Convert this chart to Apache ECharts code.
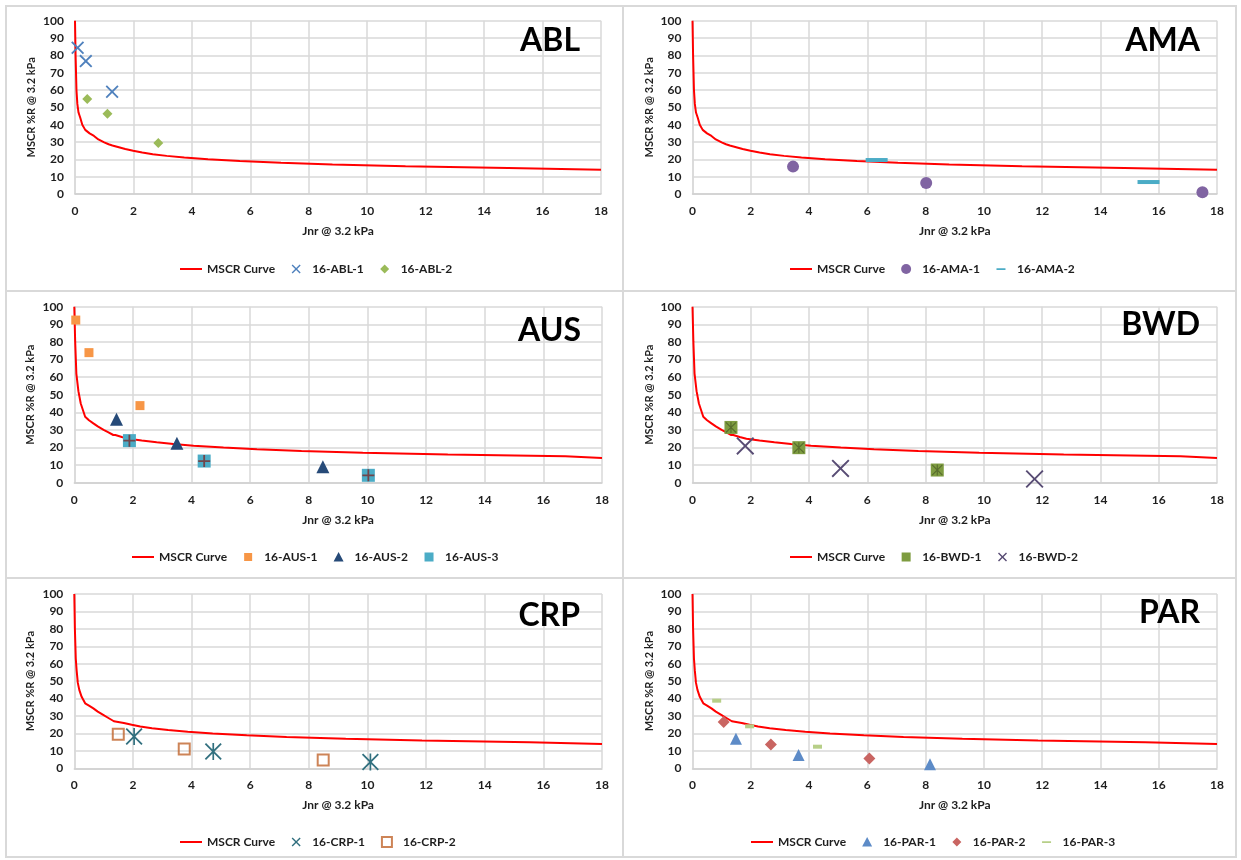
<!DOCTYPE html>
<html><head><meta charset="utf-8">
<script src="https://cdn.jsdelivr.net/npm/echarts@6/dist/echarts.min.js"></script>
<style>html,body{margin:0;padding:0;background:#fff}#chart{width:1241px;height:860px}</style>
</head><body><div id="chart"></div>
<script>
// ---- axis ticks ----
const xMin = 0, xMax = 18, xStep = 2;
const yMin = 0, yMax = 100, yStep = 10;
const xTitle = 'Jnr @ 3.2 kPa';
const yTitle = 'MSCR %R @ 3.2 kPa';
const curveName = 'MSCR Curve';
const panelNames = ['ABL', 'AMA', 'AUS', 'BWD', 'CRP', 'PAR'];

// ---- MSCR curve: steep part, then step levels [Jnr where level begins, %R] ----
const curveA_smooth = [[0,100],[0.02,80],[0.05,60],[0.08,52],[0.12,47],[0.18,44],[0.25,40],[0.35,37],[0.5,35],[0.65,33.5],[0.8,31.5],[1.0,29.8],[1.15,28.7],[1.28,28]];
const curveA_steps = [[1.28,27],[1.5,26],[1.72,25],[1.99,24],[2.3,23],[2.66,22],[3.14,21],[3.74,20],[4.55,19],[5.64,18],[7.05,17],[8.81,16],[11.31,15],[14.82,14]];
const curveB_smooth = [[0,100],[0.03,80],[0.07,62],[0.14,52],[0.22,45],[0.37,37.5],[0.5,35.5],[0.65,33.7],[0.8,32],[1.0,30],[1.15,28.7],[1.33,27.1]];
const curveB_steps = [[1.4,26],[1.62,25],[1.85,24],[2.3,23],[2.81,22],[3.38,21],[4.07,20],[5.09,19],[6.23,18],[7.75,17],[9.84,16],[12.74,15],[16.75,14]];
const curveC_smooth = [[0,100],[0.02,80],[0.05,63],[0.08,56],[0.12,49],[0.17,45],[0.25,41],[0.37,37.3],[0.5,36],[0.65,34.4],[0.8,32.5],[1.0,30.5],[1.15,29],[1.35,27]];
const curveC_steps = [[1.35,26],[1.69,25],[1.96,24],[2.25,23],[2.65,22],[3.2,21],[3.87,20],[4.72,19],[5.88,18],[7.24,17],[9.26,16],[11.86,15],[15.53,14]];

// ---- sample points [Jnr, %R] ----
const abl1 = [[0.09,84.4],[0.37,76.7],[1.27,59]];
const abl2 = [[0.42,54.8],[1.11,46.3],[2.85,29.4]];
const ama1 = [[3.45,15.8],[8.02,6.3],[17.5,1.0]];
const ama2 = [[6.32,19.6],[15.65,6.9]];
const aus1 = [[0.05,92.4],[0.5,73.9],[2.24,43.8]];
const aus2 = [[1.44,36.1],[3.5,22.4],[8.48,9.1]];
const aus3 = [[1.88,23.9],[4.43,12.3],[10.03,4.2]];
const bwd1 = [[1.32,31.4],[3.65,19.9],[8.4,7.2]];
const bwd2 = [[1.81,20.9],[5.08,8.1],[11.74,2.1]];
const crp1 = [[2.04,18.3],[4.74,9.6],[10.1,3.6]];
const crp2 = [[1.5,19.6],[3.75,11.1],[8.49,4.8]];
const par1 = [[1.49,17.0],[3.64,7.7],[8.15,2.3]];
const par2 = [[1.07,26.6],[2.69,13.7],[6.07,5.6]];
const par3 = [[0.83,38.8],[1.96,24.1],[4.29,12.4]];

// ---- marker shapes ----
const X_THICK = 'path://M2,0 L10,8 L18,0 L20,2 L12,10 L20,18 L18,20 L10,12 L2,20 L0,18 L8,10 L0,2 Z';
const X_THIN = 'path://M1.5,0 L10,8.5 L18.5,0 L20,1.5 L11.5,10 L20,18.5 L18.5,20 L10,11.5 L1.5,20 L0,18.5 L8.5,10 L0,1.5 Z';
const ASTER = 'path://M1.5,0 L10,8.5 L18.5,0 L20,1.5 L11.5,10 L20,18.5 L18.5,20 L10,11.5 L1.5,20 L0,18.5 L8.5,10 L0,1.5 Z M9,0 L11,0 L11,20 L9,20 Z';
const PLUS = 'path://M8.5,0 L11.5,0 L11.5,8.5 L20,8.5 L20,11.5 L11.5,11.5 L11.5,20 L8.5,20 L8.5,11.5 L0,11.5 L0,8.5 L8.5,8.5 Z';
// legend icons (tiny corner dots keep a square bounding box)
const DOTS_A = 'M0,0 L0.01,0 L0.01,0.01 Z ';
const DOTS_B = ' M19.99,19.99 L20,19.99 L20,20 Z';
const ICON_LINE = 'path://M0,9 L22,9 L22,11 L0,11 Z';
const ICON_DASH = 'path://' + DOTS_A + 'M1,8.5 L19,8.5 L19,12 L1,12 Z' + DOTS_B;
const ICON_DIAMOND = 'path://' + DOTS_A + 'M10,1 L19,10 L10,19 L1,10 Z' + DOTS_B;
const ICON_TRIANGLE = 'path://' + DOTS_A + 'M10,0 L20,19 L0,19 Z' + DOTS_B;
const ICON_SQUARE_S = 'path://' + DOTS_A + 'M2,2 L18,2 L18,18 L2,18 Z' + DOTS_B;
const ICON_SQUARE = 'path://' + DOTS_A + 'M1,1 L19,1 L19,19 L1,19 Z' + DOTS_B;
const ICON_HOLLOW = 'path://M0,0 L10,0 L10,10 L0,10 Z';
const ICON_X = 'path://' + DOTS_A + 'M3,1 L10,8 L17,1 L19,3 L12,10 L19,17 L17,19 L10,12 L3,19 L1,17 L8,10 L1,3 Z' + DOTS_B;

function buildCurve(smooth, steps, xEnd) {
  const pts = smooth.map(p => p.slice());
  let prev = pts[pts.length - 1][1];
  steps.forEach(([x, lvl]) => { pts.push([x, prev]); pts.push([x, lvl]); prev = lvl; });
  pts.push([xEnd, prev]);
  return pts;
}
const curveA = buildCurve(curveA_smooth, curveA_steps, xMax);
const curveB = buildCurve(curveB_smooth, curveB_steps, xMax);
const curveC = buildCurve(curveC_smooth, curveC_steps, xMax);

const FONT = 'Lato';
const TXT = '#1e1e1e';

const panels = [
  { curve: curveA, grid: {left: 75, top: 20.7, width: 526, height: 173.3}, title: {right: 661, top: 25}, legend: {left: 180, top: 263},
    sets: [
      {name: '16-ABL-1', data: abl1, symbol: X_THICK, size: 13, color: '#4f81bd', icon: ICON_X},
      {name: '16-ABL-2', data: abl2, symbol: 'diamond', size: 10, color: '#9bbb59', icon: ICON_DIAMOND}
    ]},
  { curve: curveA, grid: {left: 692.5, top: 20.7, width: 524.5, height: 173.3}, title: {right: 41, top: 25}, legend: {left: 790, top: 263},
    sets: [
      {name: '16-AMA-1', data: ama1, symbol: 'circle', size: 12, color: '#8064a2', icon: 'circle'},
      {name: '16-AMA-2', data: ama2, symbol: 'rect', size: [22, 4], color: '#4bacc6', icon: ICON_DASH}
    ]},
  { curve: curveB, grid: {left: 74.3, top: 306.7, width: 527.7, height: 176}, title: {right: 660, top: 315}, legend: {left: 132, top: 551},
    sets: [
      {name: '16-AUS-1', data: aus1, symbol: 'rect', size: 9, color: '#f79646', icon: ICON_SQUARE_S},
      {name: '16-AUS-2', data: aus2, symbol: 'triangle', size: 13, color: '#264a78', icon: ICON_TRIANGLE},
      {name: '16-AUS-3', data: aus3, symbol: 'rect', size: 13, color: '#4bacc6', icon: ICON_SQUARE, overlay: {symbol: PLUS, size: 12, color: '#7a2c2c'}}
    ]},
  { curve: curveB, grid: {left: 692.5, top: 306.7, width: 524.5, height: 176}, title: {right: 41, top: 309}, legend: {left: 790, top: 551},
    sets: [
      {name: '16-BWD-1', data: bwd1, symbol: 'rect', size: 13, color: '#7e9c40', icon: ICON_SQUARE, overlay: {symbol: ASTER, size: 11, color: '#4f6228'}},
      {name: '16-BWD-2', data: bwd2, symbol: X_THIN, size: 18, color: '#584c74', icon: ICON_X}
    ]},
  { curve: curveC, grid: {left: 74.3, top: 594, width: 527.7, height: 174.3}, title: {right: 661, top: 600}, legend: {left: 180, top: 836},
    sets: [
      {name: '16-CRP-1', data: crp1, symbol: ASTER, size: 17, color: '#32707f', icon: ICON_X},
      {name: '16-CRP-2', data: crp2, symbol: 'rect', size: 11, color: 'rgba(255,255,255,0)', border: '#c0652d', icon: ICON_HOLLOW}
    ]},
  { curve: curveC, grid: {left: 692.5, top: 594, width: 524.5, height: 174.3}, title: {right: 41, top: 597}, legend: {left: 751, top: 836},
    sets: [
      {name: '16-PAR-1', data: par1, symbol: 'triangle', size: 12, color: '#5d8bc7', icon: ICON_TRIANGLE},
      {name: '16-PAR-2', data: par2, symbol: 'diamond', size: 12, color: '#c96562', icon: ICON_DIAMOND},
      {name: '16-PAR-3', data: par3, symbol: 'rect', size: [9, 4], color: '#b7cf88', icon: ICON_DASH}
    ]}
];

const grids = [], xAxes = [], yAxes = [], series = [], legends = [], titles = [];
panels.forEach((p, i) => {
  grids.push(Object.assign({containLabel: false}, p.grid));
  xAxes.push({
    gridIndex: i, type: 'value', min: xMin, max: xMax, interval: xStep,
    name: xTitle, nameLocation: 'middle', nameGap: 31,
    nameTextStyle: {fontFamily: FONT, fontSize: 12, fontWeight: 'bold', color: TXT},
    axisLine: {show: true, lineStyle: {color: '#d0d0d0', width: 1.5}},
    axisTick: {show: false},
    axisLabel: {fontFamily: FONT, fontSize: 12, fontWeight: 'bold', color: TXT, margin: 11},
    splitLine: {show: true, lineStyle: {color: '#d9d9d9', width: 1.5}}
  });
  yAxes.push({
    gridIndex: i, type: 'value', min: yMin, max: yMax, interval: yStep,
    name: yTitle, nameLocation: 'middle', nameGap: 38, nameRotate: 90,
    nameTextStyle: {fontFamily: FONT, fontSize: 11, fontWeight: 'bold', color: TXT},
    axisLine: {show: true, lineStyle: {color: '#d9d9d9', width: 1.5}},
    axisTick: {show: false},
    axisLabel: {fontFamily: FONT, fontSize: 12, fontWeight: 'bold', color: TXT, margin: 11},
    splitLine: {show: true, lineStyle: {color: '#d9d9d9', width: 1.5}}
  });
  series.push({
    name: curveName, type: 'line', xAxisIndex: i, yAxisIndex: i, data: p.curve,
    symbol: 'none', lineStyle: {color: '#ff0000', width: 2}, itemStyle: {color: '#ff0000'},
    z: 2, silent: true
  });
  const legendData = [{name: curveName, icon: ICON_LINE}];
  p.sets.forEach(s => {
    const item = {
      name: s.name, type: 'scatter', xAxisIndex: i, yAxisIndex: i, data: s.data,
      symbol: s.symbol, symbolSize: s.size,
      itemStyle: s.border ? {color: s.color, borderColor: s.border, borderWidth: 2} : {color: s.color, opacity: 1},
      z: 3
    };
    series.push(item);
    if (s.overlay) {
      series.push({
        name: s.name, type: 'scatter', xAxisIndex: i, yAxisIndex: i, data: s.data,
        symbol: s.overlay.symbol, symbolSize: s.overlay.size,
        itemStyle: {color: s.overlay.color}, z: 4
      });
    }
    const ld = {name: s.name};
    if (s.icon) ld.icon = s.icon;
    legendData.push(ld);
  });
  legends.push({
    data: legendData, left: p.legend.left, top: p.legend.top, orient: 'horizontal',
    itemWidth: 22, itemHeight: 10, itemGap: 16, padding: 0, selectedMode: false,
    textStyle: {fontFamily: FONT, fontSize: 12, fontWeight: 'bold', color: TXT}
  });
  titles.push({
    text: panelNames[i], right: p.title.right, top: p.title.top, padding: 0,
    textStyle: {fontFamily: FONT, fontSize: 32, fontWeight: 'bold', color: '#000'}
  });
});

const borderColor = '#d9d9d9';
const option = {
  animation: false,
  backgroundColor: '#ffffff',
  textStyle: {fontFamily: FONT},
  title: titles,
  legend: legends,
  grid: grids,
  xAxis: xAxes,
  yAxis: yAxes,
  series: series,
  graphic: [
    {type: 'rect', shape: {x: 6, y: 6, width: 1230, height: 851}, style: {fill: 'none', stroke: borderColor, lineWidth: 2}, silent: true},
    {type: 'line', shape: {x1: 623, y1: 6, x2: 623, y2: 857}, style: {stroke: borderColor, lineWidth: 2}, silent: true},
    {type: 'line', shape: {x1: 6, y1: 291, x2: 1236, y2: 291}, style: {stroke: borderColor, lineWidth: 2}, silent: true},
    {type: 'line', shape: {x1: 6, y1: 578, x2: 1236, y2: 578}, style: {stroke: borderColor, lineWidth: 2}, silent: true}
  ]
};
const chart = echarts.init(document.getElementById('chart'));
chart.setOption(option);
</script>
</body></html>
